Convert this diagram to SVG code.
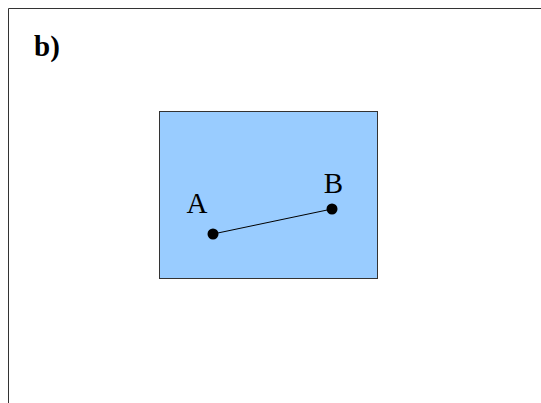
<svg xmlns="http://www.w3.org/2000/svg" width="541" height="403" viewBox="0 0 541 403">
<style>
.lbl{font-family:"Liberation Serif","DejaVu Serif",serif;font-size:29px;fill:#000}
.pt{fill:#000}
</style>
<rect width="541" height="403" fill="#fff"/>
<g id="frame"><path d="M8.5 403 V8.5 H541" fill="none" stroke="#333" stroke-width="1"/></g>
<text class="lbl" x="34" y="56" font-weight="bold" font-size="31">b)</text>
<g id="region"><rect x="159.5" y="111.5" width="218" height="167" fill="#99ccff" stroke="#333" stroke-width="1"/></g>
<g id="connectors"><line x1="213" y1="234" x2="332" y2="209" stroke="#000" stroke-width="1"/></g>
<g id="A"><circle class="pt" cx="213" cy="234" r="5.5"/><text class="lbl" x="197" y="213" text-anchor="middle">A</text></g>
<g id="B"><circle class="pt" cx="332" cy="209" r="5.5"/><text class="lbl" x="333.5" y="193" text-anchor="middle">B</text></g>
</svg>
